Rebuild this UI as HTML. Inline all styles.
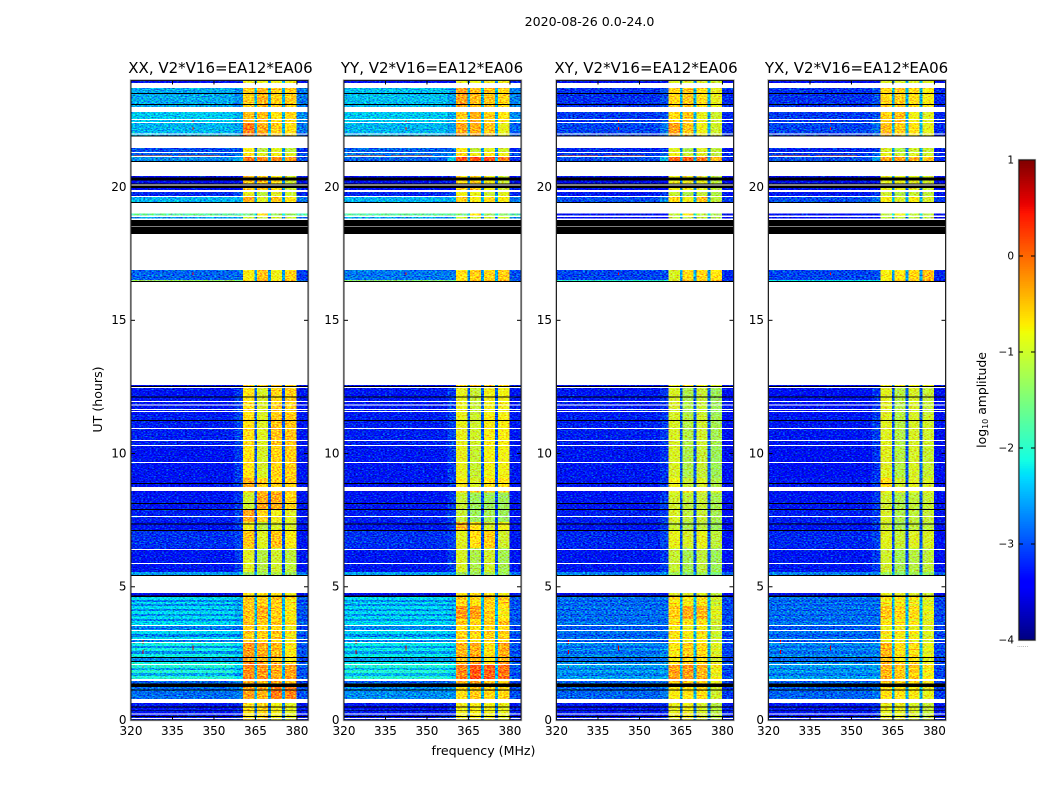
<!DOCTYPE html>
<html lang="en">
<head>
<meta charset="utf-8">
<title>2020-08-26 0.0-24.0</title>
<style>
html,body{margin:0;padding:0;background:#fff;width:1050px;height:800px;overflow:hidden}
svg{display:block}
text{font-family:"DejaVu Sans","Liberation Sans",sans-serif;fill:#000}
</style>
</head>
<body>
<svg id="chart" xmlns="http://www.w3.org/2000/svg" width="1050" height="800" viewBox="0 0 1050 800">
  <defs>
    <!-- Visual speckle texture only: not data, values come from the arrays below -->
    <filter id="speckle" x="0" y="0" width="100%" height="100%" color-interpolation-filters="sRGB">
      <feTurbulence type="fractalNoise" baseFrequency="0.48 0.85" numOctaves="1" seed="7" result="n"/>
      <feColorMatrix in="n" type="matrix" values="0 0 0 0 0.5  1 0 0 0 0  0 1 0 0 0  0 0 0 0 1" result="nc"/>
      <feComposite in="SourceGraphic" in2="nc" operator="arithmetic" k1="0" k2="1" k3="1.6" k4="-0.8" result="m"/>
      <feComposite in="m" in2="SourceAlpha" operator="in"/>
    </filter>
  </defs>
  <rect x="0" y="0" width="1050" height="800" fill="#fff"/>
  <text x="589.5" y="26" font-size="12.6" text-anchor="middle">2020-08-26 0.0-24.0</text>
  <text x="483.5" y="755" font-size="12.6" text-anchor="middle">frequency (MHz)</text>
  <text transform="translate(102 399.5) rotate(-90)" font-size="12.6" text-anchor="middle">UT (hours)</text>
  <text transform="translate(986 400) rotate(-90)" font-size="12.4" text-anchor="middle">log<tspan font-size="8" dy="2">10</tspan><tspan dy="-2"> amplitude</tspan></text>
  <text x="1017" y="647" font-size="6" fill="#777" style="fill:#777">......</text>
  <g id="panels"></g>
  <g id="colorbar"></g>
</svg>
<script>
// Panels
const panelTitles = ['XX, V2*V16=EA12*EA06', 'YY, V2*V16=EA12*EA06', 'XY, V2*V16=EA12*EA06', 'YX, V2*V16=EA12*EA06'];
const freqTicks = [320, 335, 350, 365, 380];
const hourTicks = [0, 5, 10, 15, 20];
const colorTicks = [-4, -3, -2, -1, 0, 1];

// Frequency columns (MHz): bgL, bgR, A, gap, B, gap, C, gap, D, E
const freqEdges = [320, 357.5, 360.5, 364.6, 365.6, 369.6, 370.6, 374.6, 375.6, 379.8, 384];

// Log10 amplitude of the three narrow gap channels, by level kind
const gapByKind = [-2.6,-2.5,-2.5,-2.5,-2.7,-2.6,-2.5,-2.8,-2.8,-2.5,-2.2,-2.8,-2.6,-2.6,-2.8,
-2.95,-2.95,-2.95,-3.0,-3.0,-3.0,-3.0,-3.0,-2.6,-2.8,-2.4,-2.6,-2.6,-2.5,-2.8,-2.4,-2.6,-2.4,-2.6,-2.4,-2.6];

// Observed time rows: [startHour, endHour, levelKind]
const timeRows = [
[23.90,24,0],[23.00,23.71,1],[22.42,22.81,2],[21.91,22.42,3],[21.27,21.46,4],[21.12,21.27,5],[20.94,21.12,6],
[20.13,20.41,7],[19.89,20.11,7],[19.62,19.81,8],[19.42,19.62,9],[18.93,19.00,10],[18.82,18.87,11],
[16.51,16.88,12],[16.45,16.51,13],[12.51,12.57,14],[11.44,12.46,15],[10.32,11.44,16],[9.08,10.32,15],[8.74,9.08,17],
[8.54,8.59,14],[7.88,8.54,18],[7.43,7.88,19],[7.09,7.43,20],[6.45,7.09,21],[5.55,6.45,22],[5.42,5.55,23],[4.65,4.76,24],
[4.50,4.62,25],[4.43,4.50,26],[4.35,4.43,25],[4.28,4.35,26],
[4.17,4.28,30],[4.09,4.17,31],[3.98,4.09,30],[3.90,3.98,31],[3.79,3.90,30],
[3.72,3.79,26],[3.57,3.72,25],[3.38,3.53,26],[3.23,3.34,25],[3.11,3.23,26],[3.00,3.11,25],[2.89,3.00,26],
[2.78,2.89,32],[2.70,2.78,33],[2.59,2.70,32],[2.48,2.59,33],[2.33,2.48,32],[2.18,2.33,33],[2.06,2.18,32],
[1.95,2.06,34],[1.88,1.95,35],[1.76,1.88,34],[1.65,1.76,35],[1.54,1.65,34],
[1.35,1.46,27],[0.79,1.35,28],[0,0.64,29]
];

// Unobserved (blank) hour ranges inside observed rows
const blankRows = [[22.51,22.55],[22.40,22.45],[21.97,22.01],[21.27,21.31],[21.13,21.16],[19.62,19.66],[20.06,20.09],
[11.93,11.97],[11.80,11.84],[11.63,11.67],[11.56,11.59],[10.92,10.96],[10.47,10.51],[10.28,10.32],[9.64,9.68],
[7.62,7.65],[6.38,6.42],[5.85,5.89],[3.53,3.57],[3.34,3.38],[3.00,3.04],[2.89,2.93],[2.06,2.10],[1.46,1.54],
[0.205,0.245],[0.03,0.07]];

// Flagged (black) hour ranges
const flaggedRows = [[23.49,23.53],[23.08,23.11],[21.89,21.93],[20.94,20.98],[20.24,20.36],[20.09,20.13],[19.96,20.06],
[19.40,19.44],[18.52,18.76],[18.24,18.50],[16.44,16.47],[12.50,12.53],[12.11,12.15],[11.23,11.26],[8.86,8.89],[8.11,8.14],
[7.88,7.92],[7.34,7.38],[7.09,7.13],[5.40,5.44],[4.62,4.67],[2.33,2.36],[2.18,2.21],[1.24,1.37],[1.11,1.14],[0.47,0.50],[0.33,0.36],[0.11,0.145]];

// Bright interference: [startMHz, endMHz, startHour, endHour, log10 amplitude]
const rfiMarks = [[321,335,21.18,21.21,0.1],[337,352,21.18,21.21,0.1],[342.2,342.6,22.44,22.49,0.4],[342.2,342.6,22.14,22.26,0.4],
[342.2,342.6,2.6,2.8,0.6],[324.2,324.6,2.85,3.0,0.6],[324.2,324.6,2.47,2.62,0.6],[324.2,324.6,1.97,2.01,0.6],[342.2,342.6,16.7,16.8,0.5],
[324,335,11.95,11.98,-0.4],[340,352,11.95,11.98,-0.2]];

// Levels per kind: [bgL, bgR, A, B, C, D, E], log10 amplitude
const levelsXX = [
[-3.4,-3.3,-0.8,-0.8,-0.8,-0.8,-3.3],[-2.55,-2.7,-0.55,-0.4,-0.55,-0.55,-2.8],[-2.4,-2.55,-0.45,-0.45,-0.7,-0.6,-2.7],
[-2.5,-2.6,-0.1,-0.35,-0.55,-0.65,-2.8],[-3.0,-3.0,-0.75,-1.1,-0.9,-1.1,-3.2],[-2.9,-2.8,-0.7,-0.9,-0.8,-0.9,-3.0],
[-2.7,-2.5,-0.1,-0.15,-0.2,-0.3,-3.0],[-3.4,-3.3,-0.5,-0.5,-0.7,-1.0,-3.3],[-3.2,-3.0,-0.85,-1.1,-0.9,-1.0,-3.2],
[-2.5,-2.5,-0.35,-0.9,-0.5,-0.7,-2.8],[-1.7,-1.7,-1.5,-0.6,-1.3,-1.4,-1.8],[-2.6,-2.6,-1.0,-1.0,-1.0,-1.0,-2.8],
[-2.9,-2.85,-0.75,-0.5,-0.8,-0.6,-3.1],[-1.3,-1.5,-0.6,-0.35,-0.7,-0.4,-2.9],[-3.4,-3.3,-0.6,-0.5,-0.5,-0.6,-3.3],
[-3.32,-3.1,-0.7,-0.95,-0.6,-0.55,-3.3],[-3.25,-3.05,-0.65,-0.9,-0.5,-0.5,-3.3],[-3.32,-3.1,-0.4,-0.6,-0.6,-0.55,-3.3],
[-3.3,-3.1,-1.0,-0.35,-0.35,-0.6,-3.3],[-3.25,-3.1,-0.35,-0.6,-0.8,-0.9,-3.3],[-3.3,-3.1,-0.8,-1.1,-0.95,-0.95,-3.3],
[-3.15,-3.05,-0.5,-0.9,-0.5,-0.75,-3.3],[-3.3,-3.1,-0.9,-1.15,-1.0,-1.1,-3.3],[-2.6,-2.6,-1.3,-1.3,-1.2,-1.3,-2.8],
[-3.5,-3.4,-0.7,-0.7,-0.7,-0.8,-3.4],[-2.3,-2.45,-0.45,-0.5,-0.45,-0.6,-2.9],[-2.75,-2.8,-0.6,-0.65,-0.65,-0.85,-3.1],
[-2.9,-2.8,-0.4,-0.45,-0.35,-0.4,-3.1],[-2.85,-2.75,-0.3,-0.4,-0.1,-0.15,-3.0],[-3.3,-3.2,-0.7,-0.6,-0.8,-0.9,-3.3],
[-2.3,-2.45,-0.45,-0.3,-0.5,-0.7,-2.9],[-2.7,-2.8,-0.6,-0.5,-0.65,-0.85,-3.1],[-2.15,-2.3,-0.2,-0.3,-0.4,-0.65,-2.9],
[-2.7,-2.75,-0.35,-0.45,-0.55,-0.8,-3.1],[-2.05,-2.3,-0.15,-0.2,-0.3,-0.25,-2.9],[-2.55,-2.7,-0.3,-0.35,-0.45,-0.4,-3.1]
];
const levelsYY = [
[-3.4,-3.3,-0.8,-0.8,-0.8,-0.8,-3.3],[-2.45,-2.6,-0.3,-0.45,-0.5,-0.6,-2.75],[-2.4,-2.55,-0.55,-0.4,-0.55,-0.7,-2.7],
[-2.5,-2.6,-0.35,-0.35,-0.5,-0.85,-2.9],[-2.9,-2.9,-0.75,-1.1,-0.9,-1.0,-3.2],[-2.8,-2.7,-0.6,-0.8,-0.7,-0.8,-3.0],
[-2.9,-2.4,0.15,0.15,0.1,-0.1,-3.2],[-3.4,-3.3,-0.6,-0.6,-0.8,-1.0,-3.3],[-3.2,-3.0,-0.8,-0.85,-1.0,-0.9,-3.2],
[-2.5,-2.5,-0.55,-0.75,-0.65,-0.75,-2.8],[-1.7,-1.7,-1.5,-0.7,-1.3,-1.4,-1.8],[-2.6,-2.6,-1.0,-1.0,-1.0,-1.0,-2.8],
[-2.8,-2.8,-0.7,-0.55,-0.6,-0.55,-3.0],[-1.4,-1.6,-0.6,-0.4,-0.5,-0.4,-2.9],[-3.4,-3.3,-0.6,-0.5,-0.5,-0.6,-3.3],
[-3.3,-3.1,-0.85,-1.05,-0.8,-0.8,-3.3],[-3.25,-3.05,-0.85,-1.0,-0.75,-0.75,-3.3],[-3.3,-3.1,-0.75,-0.95,-0.7,-0.7,-3.3],
[-3.3,-3.1,-1.05,-1.3,-1.3,-1.3,-3.3],[-3.25,-3.1,-1.05,-1.3,-1.25,-1.3,-3.3],[-3.3,-3.1,-0.4,-0.7,-0.95,-0.8,-3.3],
[-3.15,-3.05,-0.9,-0.65,-0.55,-1.0,-3.3],[-3.3,-3.1,-0.95,-1.2,-1.0,-1.25,-3.3],[-2.6,-2.6,-1.3,-1.3,-1.2,-1.3,-2.8],
[-3.5,-3.4,-0.7,-0.7,-0.7,-0.8,-3.4],[-2.3,-2.4,-0.5,-0.55,-0.5,-0.45,-2.9],[-2.7,-2.75,-0.7,-0.75,-0.65,-0.7,-3.1],
[-2.9,-2.8,-0.45,-0.3,-0.5,-0.55,-3.1],[-2.7,-2.65,-0.65,-0.55,-0.6,-0.6,-3.0],[-3.3,-3.2,-0.8,-0.75,-0.8,-0.85,-3.3],
[-2.3,-2.4,-0.2,-0.25,-0.5,-0.7,-2.9],[-2.7,-2.75,-0.35,-0.4,-0.65,-0.85,-3.1],[-2.2,-2.3,-0.35,-0.3,-0.6,-0.3,-2.9],
[-2.65,-2.7,-0.5,-0.45,-0.75,-0.45,-3.1],[-2.05,-2.2,-0.1,0.15,0.1,0.0,-2.9],[-2.5,-2.6,-0.25,0.0,-0.05,-0.15,-3.1]
];
const levelsXY = [
[-3.4,-3.3,-0.9,-0.9,-0.9,-1.0,-3.4],[-3.15,-3.0,-0.6,-0.5,-0.65,-0.85,-3.2],[-3.1,-3.0,-0.65,-0.5,-0.85,-1.0,-3.2],
[-3.05,-2.8,-0.3,-0.5,-0.8,-1.0,-3.2],[-3.2,-3.1,-0.9,-1.2,-0.9,-1.1,-3.3],[-3.1,-2.9,-0.8,-1.0,-0.9,-1.1,-3.2],
[-3.0,-2.5,0.05,0.05,-0.1,-0.4,-3.2],[-3.5,-3.4,-0.8,-0.8,-0.85,-1.1,-3.4],[-3.3,-3.1,-1.05,-1.2,-1.05,-1.2,-3.3],
[-3.0,-2.75,-0.65,-0.8,-0.5,-1.1,-3.1],[-3.4,-3.4,-1.1,-0.7,-1.1,-1.2,-3.4],[-3.4,-3.4,-1.1,-1.1,-1.1,-1.2,-3.4],
[-3.05,-3.0,-0.95,-0.65,-0.6,-0.7,-3.2],[-2.0,-2.0,-0.9,-0.5,-0.55,-0.4,-3.2],[-3.4,-3.3,-0.8,-0.7,-0.8,-0.9,-3.3],
[-3.3,-3.15,-0.95,-1.2,-1.05,-1.3,-3.35],[-3.25,-3.1,-0.95,-1.15,-1.0,-1.25,-3.35],[-3.3,-3.15,-0.8,-1.05,-0.95,-1.2,-3.35],
[-3.3,-3.1,-1.0,-1.1,-1.05,-1.25,-3.35],[-3.25,-3.1,-0.95,-1.1,-1.05,-1.25,-3.35],[-3.3,-3.1,-1.05,-1.2,-1.1,-1.3,-3.35],
[-3.2,-3.05,-0.85,-0.95,-0.85,-1.1,-3.35],[-3.3,-3.1,-1.05,-1.25,-1.1,-1.3,-3.35],[-2.75,-2.7,-1.3,-1.4,-1.3,-1.5,-2.9],
[-3.5,-3.4,-0.9,-0.9,-0.9,-1.1,-3.4],[-2.8,-2.8,-0.6,-0.7,-0.6,-0.95,-3.0],[-2.95,-2.95,-0.8,-0.85,-0.8,-1.1,-3.1],
[-2.9,-2.85,-0.6,-0.5,-0.55,-0.85,-3.1],[-2.9,-2.8,-0.75,-0.7,-0.65,-1.0,-3.1],[-3.3,-3.2,-0.85,-0.8,-0.95,-1.15,-3.3],
[-2.8,-2.8,-0.5,-0.3,-0.35,-0.85,-3.0],[-2.95,-2.95,-0.65,-0.45,-0.5,-1.0,-3.1],[-2.7,-2.65,-0.65,-0.5,-0.55,-0.85,-3.0],
[-2.9,-2.85,-0.8,-0.65,-0.7,-1.0,-3.1],[-2.6,-2.55,-0.25,-0.2,-0.35,-0.75,-3.0],[-2.8,-2.75,-0.4,-0.35,-0.5,-0.9,-3.1]
];
const levelsYX = [
[-3.4,-3.3,-0.9,-0.9,-0.9,-0.9,-3.4],[-3.15,-3.0,-0.6,-0.55,-0.65,-0.75,-3.2],[-3.1,-3.0,-0.6,-0.45,-0.8,-0.9,-3.2],
[-3.05,-2.85,-0.45,-0.55,-0.7,-0.85,-3.2],[-3.2,-3.1,-0.95,-1.2,-1.0,-1.05,-3.3],[-3.1,-2.9,-0.85,-1.0,-0.9,-1.0,-3.2],
[-3.0,-2.6,-0.3,-0.3,-0.35,-0.5,-3.2],[-3.5,-3.4,-0.85,-0.85,-0.9,-1.0,-3.4],[-3.3,-3.1,-1.0,-1.2,-1.05,-1.1,-3.3],
[-3.0,-2.8,-0.75,-0.95,-0.75,-0.95,-3.1],[-3.4,-3.4,-1.1,-0.8,-1.1,-1.1,-3.4],[-3.4,-3.4,-1.1,-1.1,-1.1,-1.1,-3.4],
[-3.05,-3.0,-0.75,-0.7,-0.6,-0.45,-3.2],[-2.2,-2.2,-0.75,-0.6,-0.55,-0.4,-3.2],[-3.4,-3.3,-0.8,-0.75,-0.8,-0.85,-3.3],
[-3.35,-3.15,-0.9,-1.15,-0.95,-1.05,-3.35],[-3.3,-3.1,-0.9,-1.15,-0.95,-1.0,-3.35],[-3.3,-3.1,-0.65,-1.0,-0.9,-0.95,-3.35],
[-3.3,-3.1,-1.0,-1.2,-1.1,-1.05,-3.35],[-3.25,-3.1,-0.95,-1.2,-1.1,-1.05,-3.35],[-3.3,-3.1,-1.0,-1.25,-1.1,-1.1,-3.35],
[-3.2,-3.05,-0.9,-1.05,-0.9,-0.95,-3.35],[-3.3,-3.1,-1.0,-1.25,-1.15,-1.1,-3.35],[-2.75,-2.7,-1.3,-1.4,-1.3,-1.35,-2.9],
[-3.5,-3.4,-0.85,-0.85,-0.9,-1.0,-3.4],[-2.8,-2.8,-0.65,-0.65,-0.7,-0.85,-3.0],[-2.95,-2.95,-0.85,-0.85,-0.9,-1.0,-3.1],
[-2.9,-2.85,-0.55,-0.6,-0.6,-0.75,-3.1],[-2.9,-2.8,-0.65,-0.7,-0.75,-0.85,-3.1],[-3.3,-3.2,-0.85,-0.85,-0.95,-1.05,-3.3],
[-2.8,-2.8,-0.45,-0.55,-0.6,-0.8,-3.0],[-2.95,-2.95,-0.6,-0.7,-0.75,-0.95,-3.1],[-2.7,-2.65,-0.35,-0.6,-0.6,-0.8,-3.0],
[-2.9,-2.85,-0.5,-0.75,-0.75,-0.95,-3.1],[-2.6,-2.55,-0.35,-0.45,-0.5,-0.7,-3.0],[-2.8,-2.75,-0.5,-0.6,-0.65,-0.85,-3.1]
];
const panelLevels = [levelsXX, levelsYY, levelsXY, levelsYX];
const panelLefts = [131, 344, 556.5, 768.5];
const titleShift = [1, -0.5, 1, -0.5];

const SVGNS = 'http://www.w3.org/2000/svg';
const AX = { width: 177, top: 80.5, bottom: 720, fMin: 320, fMax: 384, hMin: 0, hMax: 24 };
const CB = { left: 1019, right: 1035, top: 160, bottom: 640, vMin: -4, vMax: 1 };

function yHour(h) { return AX.bottom - (h - AX.hMin) / (AX.hMax - AX.hMin) * (AX.bottom - AX.top); }
function xFreq(left, f) { return left + (f - AX.fMin) / (AX.fMax - AX.fMin) * AX.width; }
function yValue(v) { return CB.bottom - (v - CB.vMin) / (CB.vMax - CB.vMin) * (CB.bottom - CB.top); }

function lerp(points, t) {
  for (let i = 1; i < points.length; i++) {
    if (t <= points[i][0]) {
      const a = points[i - 1], b = points[i];
      return a[1] + (t - a[0]) / (b[0] - a[0]) * (b[1] - a[1]);
    }
  }
  return points[points.length - 1][1];
}
const JET_R = [[0,0],[0.35,0],[0.66,1],[0.89,1],[1,0.5]];
const JET_G = [[0,0],[0.125,0],[0.375,1],[0.64,1],[0.91,0],[1,0]];
const JET_B = [[0,0.5],[0.11,1],[0.34,1],[0.65,0],[1,0]];
function jet(v) {
  const t = Math.max(0, Math.min(1, (v - CB.vMin) / (CB.vMax - CB.vMin)));
  return 'rgb(' + Math.round(lerp(JET_R, t) * 255) + ',' + Math.round(lerp(JET_G, t) * 255) + ',' + Math.round(lerp(JET_B, t) * 255) + ')';
}
function mk(tag, parent, attrs) {
  const el = document.createElementNS(SVGNS, tag);
  for (const k in attrs) el.setAttribute(k, attrs[k]);
  parent.appendChild(el);
  return el;
}
function bandRect(parent, left, f0, f1, h0, h1, fill) {
  const y0 = yHour(h1), y1 = yHour(h0);
  const x0 = xFreq(left, f0), x1 = xFreq(left, f1);
  return mk('rect', parent, { x: x0, y: y0, width: x1 - x0, height: y1 - y0, fill: fill, 'shape-rendering': 'crispEdges' });
}

const panelsRoot = document.getElementById('panels');
panelTitles.forEach(function (title, p) {
  const left = panelLefts[p];
  const levels = panelLevels[p];
  const g = mk('g', panelsRoot, {});
  
  

  const cells = mk('g', g, { filter: 'url(#speckle)' });
  
  
  timeRows.forEach(function (row) {
    const lv = levels[row[2]];
    const g0 = gapByKind[row[2]];
    const cols = [lv[0], lv[1], lv[2], g0, lv[3], g0, lv[4], g0, lv[5], lv[6]];
    cols.forEach(function (v, c) {
      const r = bandRect(cells, left, freqEdges[c], freqEdges[c + 1], row[0], row[1], jet(v));
      
      
    });
  });
  rfiMarks.forEach(function (m) {
    const r = bandRect(g, left, m[0], m[1], m[2], m[3], jet(m[4]));
    
    
  });
  blankRows.forEach(function (b) {
    const r = bandRect(g, left, AX.fMin, AX.fMax, b[0], b[1], '#fff');
    
    
  });
  flaggedRows.forEach(function (b) {
    const r = bandRect(g, left, AX.fMin, AX.fMax, b[0], b[1], '#000');
    
    
  });

  freqTicks.forEach(function (f) {
    const x = xFreq(left, f);
    const t1 = mk('line', g, { x1: x, x2: x, y1: AX.bottom, y2: AX.bottom - 4, stroke: '#000', 'stroke-width': 1 });
    
    
    const t2 = mk('line', g, { x1: x, x2: x, y1: AX.top, y2: AX.top + 4, stroke: '#000', 'stroke-width': 1 });
    
    
    const lab = mk('text', g, { x: x, y: AX.bottom + 15, 'font-size': 12, 'text-anchor': 'middle' });
    lab.textContent = f;
    
    
  });
  hourTicks.forEach(function (h) {
    const y = yHour(h);
    const t1 = mk('line', g, { x1: left, x2: left + 4, y1: y, y2: y, stroke: '#000', 'stroke-width': 1 });
    
    
    const t2 = mk('line', g, { x1: left + AX.width - 4, x2: left + AX.width, y1: y, y2: y, stroke: '#000', 'stroke-width': 1 });
    
    
    const lab = mk('text', g, { x: left - 4.5, y: y + 3.8, 'font-size': 12, 'text-anchor': 'end' });
    lab.textContent = h;
    
    
  });

  const halo = mk('rect', g, { x: left - 0.5, y: AX.top - 0.5, width: AX.width + 1, height: AX.bottom - AX.top + 1, fill: 'none', stroke: '#aaa', 'stroke-width': 1.4 });
  
  
  const frame = mk('rect', g, { x: left, y: AX.top, width: AX.width, height: AX.bottom - AX.top, fill: 'none', stroke: '#111', 'stroke-width': 0.9 });
  
  

  const tt = mk('text', g, { x: left + AX.width / 2 + titleShift[p], y: 73, 'font-size': 15, 'text-anchor': 'middle' });
  tt.textContent = title;
  
  
});

const cbRoot = document.getElementById('colorbar');
const cbLevels = 256;
for (let i = 0; i < cbLevels; i++) {
  const v0 = CB.vMin + (CB.vMax - CB.vMin) * i / cbLevels;
  const v1 = CB.vMin + (CB.vMax - CB.vMin) * (i + 1) / cbLevels;
  const y0 = yValue(v1), y1 = yValue(v0);
  const r = mk('rect', cbRoot, { x: CB.left, y: y0, width: CB.right - CB.left, height: y1 - y0 + 0.3, fill: jet((v0 + v1) / 2), 'shape-rendering': 'crispEdges' });
  
  
}
colorTicks.forEach(function (v) {
  const y = yValue(v);
  const t1 = mk('line', cbRoot, { x1: CB.left, x2: CB.left + 4, y1: y, y2: y, stroke: '#000', 'stroke-width': 1 });
  
  
  const t2 = mk('line', cbRoot, { x1: CB.right - 4, x2: CB.right, y1: y, y2: y, stroke: '#000', 'stroke-width': 1 });
  
  
  const lab = mk('text', cbRoot, { x: CB.left - 5, y: y + 3.5, 'font-size': 10.5, 'text-anchor': 'end' });
  lab.textContent = (v < 0 ? '\u2212' + Math.abs(v) : String(v));
  
  
});
const cbHalo = mk('rect', cbRoot, { x: CB.left - 0.5, y: CB.top - 0.5, width: CB.right - CB.left + 1, height: CB.bottom - CB.top + 1, fill: 'none', stroke: '#aaa', 'stroke-width': 1.2 });


const cbFrame = mk('rect', cbRoot, { x: CB.left, y: CB.top, width: CB.right - CB.left, height: CB.bottom - CB.top, fill: 'none', stroke: '#111', 'stroke-width': 0.9 });


</script>
</body>
</html>
